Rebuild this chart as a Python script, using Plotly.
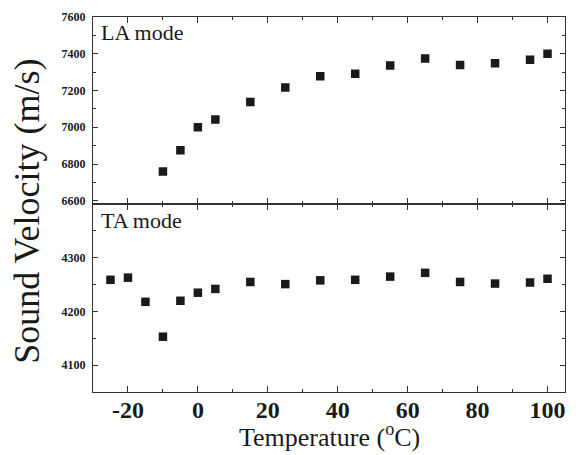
import plotly.graph_objects as go

temp_la = [-10, -5, 0, 5, 15, 25, 35, 45, 55, 65, 75, 85, 95, 100]
vel_la = [6760, 6875, 7000, 7043, 7138, 7217, 7278, 7291, 7336, 7374, 7339, 7348, 7368, 7400]

temp_ta = [-25, -20, -15, -10, -5, 0, 5, 15, 25, 35, 45, 55, 65, 75, 85, 95, 100]
vel_ta = [4259, 4263, 4218, 4153, 4220, 4235, 4242, 4255, 4251, 4258, 4259, 4265, 4272, 4255, 4252, 4254, 4261]

x_ticks = [-20, 0, 20, 40, 60, 80, 100]
la_ticks = [6600, 6800, 7000, 7200, 7400, 7600]
ta_ticks = [4100, 4200, 4300]

SERIF = "'Liberation Serif', 'Times New Roman', Times, serif"
INK = "#1a1a1a"
AX = "#333333"

fig = go.Figure()
marker = dict(symbol="square", size=8.5, color=INK)
fig.add_trace(go.Scatter(x=temp_ta, y=vel_ta, mode="markers", marker=marker,
                         xaxis="x", yaxis="y", showlegend=False))
fig.add_trace(go.Scatter(x=temp_la, y=vel_la, mode="markers", marker=marker,
                         xaxis="x2", yaxis="y2", showlegend=False))

common_x = dict(range=[-30, 105], showgrid=False, zeroline=False, showline=True,
                linecolor=AX, linewidth=1, mirror="ticks", ticks="inside",
                ticklen=6, tickcolor=AX, tickvals=x_ticks,
                minor=dict(dtick=10, tick0=0, ticks="inside", ticklen=3, tickcolor=AX))
common_y = dict(showgrid=False, zeroline=False, showline=True, linecolor=AX,
                linewidth=1, mirror="ticks", ticks="inside", ticklen=5,
                tickcolor=AX, tickfont=dict(family=SERIF, size=12, color=INK),
                ticklabelstandoff=4)

fig.update_layout(
    width=576, height=455,
    margin=dict(l=93, r=10, t=13, b=63),
    paper_bgcolor="white", plot_bgcolor="white",
    font=dict(family=SERIF, color=INK),
    xaxis=dict(**common_x, domain=[0, 1], anchor="y",
               ticktext=[f"<b>{v}</b>" for v in x_ticks],
               tickfont=dict(family=SERIF, size=24, color=INK), ticklabelstandoff=-4),
    xaxis2=dict(**common_x, domain=[0, 1], anchor="y2", matches="x", showticklabels=False),
    yaxis=dict(**common_y, domain=[0, 0.501], range=[4050, 4400],
               tickvals=ta_ticks, ticktext=[f"<b>{v}</b>" for v in ta_ticks],
               minor=dict(dtick=50, tick0=4050, ticks="inside", ticklen=3, tickcolor=AX)),
    yaxis2=dict(**common_y, domain=[0.501, 1], range=[6582, 7600],
                tickvals=la_ticks, ticktext=[f"<b>{v}</b>" for v in la_ticks],
                minor=dict(dtick=100, tick0=6600, ticks="inside", ticklen=3, tickcolor=AX)),
    annotations=[
        dict(text="LA mode", x=0.013, y=0.998, xref="paper", yref="paper",
             xanchor="left", yanchor="top", showarrow=False,
             font=dict(family=SERIF, size=22, color=INK)),
        dict(text="TA mode", x=0.013, y=0.495, xref="paper", yref="paper",
             xanchor="left", yanchor="top", showarrow=False,
             font=dict(family=SERIF, size=22, color=INK)),
        dict(text="Sound Velocity (m/s)", x=-0.14, y=0.483, xref="paper", yref="paper",
             xanchor="center", yanchor="middle", textangle=-90, showarrow=False,
             font=dict(family=SERIF, size=36, color=INK)),
        dict(text="Temperature (<sup>o</sup>C)", x=0.5, y=-0.116, xref="paper", yref="paper",
             xanchor="center", yanchor="middle", showarrow=False,
             font=dict(family=SERIF, size=26, color=INK)),
    ],
)

# page has a default body margin; remove it so the figure sits at the corner
fig.write_html("out.html", config={"displayModeBar": False},
               post_script="document.body.style.margin='0px';")
